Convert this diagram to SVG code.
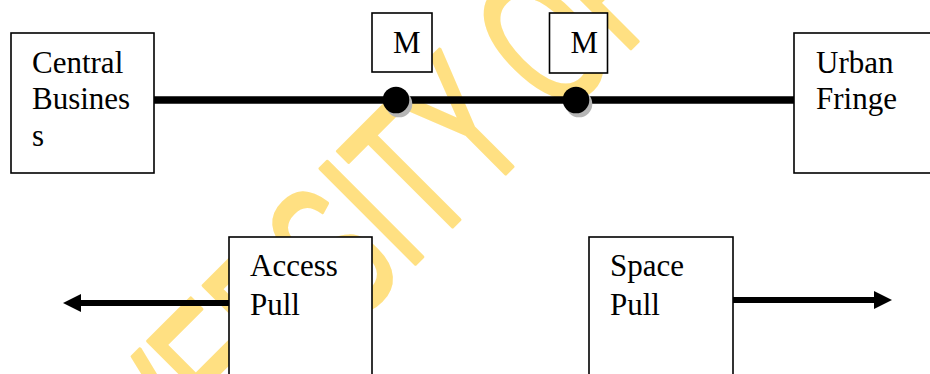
<svg xmlns="http://www.w3.org/2000/svg" width="930" height="374" viewBox="0 0 930 374">
  <style>
    .box { fill: #ffffff; stroke: #000000; stroke-width: 1.6; }
    .lbl { font-family: "Liberation Serif", "Times New Roman", serif; font-size: 31px; fill: #000000; }
    .wm { font-family: "Liberation Sans", Arial, sans-serif; font-size: 100px; fill: #FFE082; stroke: #FFE082; stroke-width: 2; stroke-linejoin: round; }
    .main { stroke: #000000; stroke-width: 7.5; fill: none; }
    .arr { stroke: #000000; stroke-width: 6; fill: none; }
    .dot { fill: #000000; }
    .shadow { fill: #b5b5b5; }
  </style>
  <defs>
    <marker id="head" viewBox="0 0 18 18" markerWidth="18" markerHeight="18" refX="0" refY="9" orient="auto" markerUnits="userSpaceOnUse">
      <path d="M0,0 L18,9 L0,18 z" fill="#000000"/>
    </marker>
  </defs>

  <rect width="930" height="374" fill="#ffffff"/>

  <g id="watermark">
    <text class="wm" transform="translate(180,499) rotate(-45) scale(1.18,1.95)" x="0" y="0">VERSITY OF</text>
  </g>

  <g id="connectors">
    <line class="main" x1="154" y1="100" x2="794" y2="100"/>
    <line class="arr" x1="229" y1="303" x2="81" y2="303" marker-end="url(#head)"/>
    <line class="arr" x1="733" y1="300" x2="874" y2="300" marker-end="url(#head)"/>
  </g>

  <g id="central">
    <rect class="box" x="11" y="33" width="143" height="140"/>
    <text class="lbl" x="32" y="73">Central</text>
    <text class="lbl" x="32" y="109">Busines</text>
    <text class="lbl" x="32" y="146">s</text>
  </g>

  <g id="m1">
    <rect class="box" x="372" y="13" width="60" height="59"/>
    <text class="lbl" x="393" y="53">M</text>
  </g>

  <g id="m2">
    <rect class="box" x="549.5" y="13" width="58" height="60"/>
    <text class="lbl" x="570.5" y="53">M</text>
  </g>

  <g id="node1">
    <circle class="shadow" cx="399" cy="104" r="13.3"/>
    <circle class="dot" cx="396" cy="100" r="13.3"/>
  </g>

  <g id="node2">
    <circle class="shadow" cx="579" cy="104" r="13.3"/>
    <circle class="dot" cx="576" cy="100" r="13.3"/>
  </g>

  <g id="urban">
    <rect class="box" x="794" y="33" width="150" height="140"/>
    <text class="lbl" x="816" y="73">Urban</text>
    <text class="lbl" x="816" y="109">Fringe</text>
  </g>

  <g id="access">
    <rect class="box" x="229" y="237" width="143" height="150"/>
    <text class="lbl" x="250" y="276">Access</text>
    <text class="lbl" x="250" y="315">Pull</text>
  </g>

  <g id="space">
    <rect class="box" x="589" y="237" width="144" height="150"/>
    <text class="lbl" x="610" y="276">Space</text>
    <text class="lbl" x="610" y="315">Pull</text>
  </g>
</svg>
